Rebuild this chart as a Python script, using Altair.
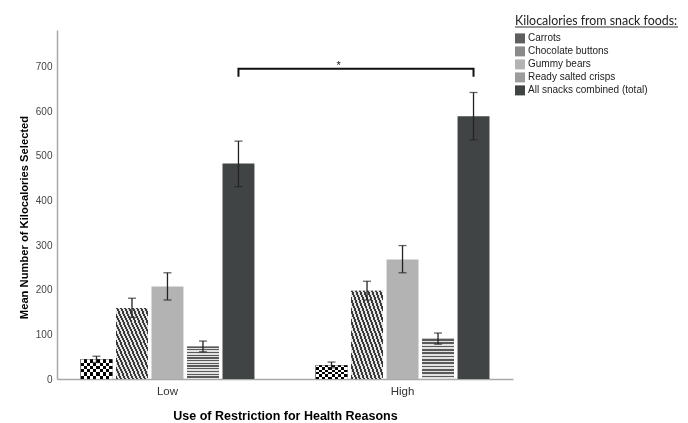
import altair as alt
import pandas as pd

# ---- data ----
groups = ["Low", "High"]
snacks = ["Carrots", "Chocolate buttons", "Gummy bears", "Ready salted crisps",
          "All snacks combined (total)"]
low_mean = [44, 159, 207, 73, 483]
low_lo = [37, 138, 177, 61, 431]
low_hi = [51, 181, 238, 85, 533]
high_mean = [31, 198, 268, 90, 589]
high_lo = [25, 177, 238, 78, 536]
high_hi = [38, 219, 299, 103, 642]
y_ticks = [0, 100, 200, 300, 400, 500, 600, 700]
bracket_y = [677, 695, 695, 677]
bracket_groups = ["Low", "Low", "High", "High"]
star_y = [694]

rows = []
for g, m, lo, hi in [("Low", low_mean, low_lo, low_hi), ("High", high_mean, high_lo, high_hi)]:
    for s, a, b, c in zip(snacks, m, lo, hi):
        rows.append({"group": g, "snack": s, "mean": a, "lo": b, "hi": c})
df = pd.DataFrame(rows)

df_br = pd.DataFrame({"group": bracket_groups, "snack": [snacks[-1]] * 4,
                      "y": bracket_y, "order": [0, 1, 2, 3]})
df_star = pd.DataFrame({"group": ["High"], "snack": ["Carrots"], "y": star_y, "t": ["*"]})

# ---- styles ----
legend_grays = ["#5e5e5e", "#8a8a8a", "#b3b3b3", "#9c9c9c", "#414445"]


def stripes(n, c1, c2, x1, y1, x2, y2, frac=0.5):
    stops = []
    for k in range(n):
        a = k / n
        b = (k + frac) / n
        c = (k + 1) / n
        stops += [alt.GradientStop(color=c1, offset=a), alt.GradientStop(color=c1, offset=b),
                  alt.GradientStop(color=c2, offset=b), alt.GradientStop(color=c2, offset=c)]
    return alt.LinearGradient(gradient="linear", stops=stops, x1=x1, y1=y1, x2=x2, y2=y2)


choc_fill = stripes(16, "#3a3a3a", "#e6e6e6", 0, 1, 1, 0)
crisp_fill = stripes(12, "#5a5a5a", "#e2e2e2", 0, 0, 0, 1)
carrot_h = stripes(3, "#000000", "#ffffff", 0, 0, 0, 1)
carrot_v = stripes(5, "#ffffff", "#000000", 0, 0, 1, 0)

X = alt.X("group:N", sort=groups,
          scale=alt.Scale(domain=groups, paddingInner=0.26, paddingOuter=0.1),
          axis=alt.Axis(title="Use of Restriction for Health Reasons", titleFontSize=12.5,
                        titleFontWeight="bold", titleColor="#000", titlePadding=13,
                        labelFontSize=11.5, labelColor="#333", labelPadding=6, labelAngle=0,
                        ticks=False, domainColor="#a8a8a8", domainWidth=1.5))
XO = alt.XOffset("snack:N", sort=snacks,
                 scale=alt.Scale(domain=snacks, paddingInner=0.1, paddingOuter=0))
Y = alt.Y("mean:Q", scale=alt.Scale(domain=[0, 782], nice=False, zero=True),
          axis=alt.Axis(values=y_ticks, title="Mean Number of Kilocalories Selected",
                        titleFont="Liberation Sans Narrow, Liberation Sans, sans-serif",
                        titleFontSize=11.2, titleFontWeight="bold", titleColor="#000",
                        titlePadding=6, titleY=187, labelFontSize=10, labelColor="#444",
                        labelPadding=5, ticks=False, grid=False,
                        domainColor="#a8a8a8", domainWidth=1.5))

base = alt.Chart(df).encode(x=X, xOffset=XO)

bars = base.mark_bar().encode(
    y=Y,
    color=alt.Color("snack:N", scale=alt.Scale(domain=snacks, range=legend_grays),
                    legend=alt.Legend(orient="none", legendX=458, legendY=-15,
                                      title="Kilocalories from snack foods:",
                                      titleFont="Lato", titleFontSize=12.4,
                                      titleFontWeight="normal", titleColor="#222",
                                      titlePadding=6,
                                      labelFont="Liberation Sans", labelFontSize=10,
                                      labelColor="#222", symbolType="square",
                                      symbolSize=100, symbolStrokeWidth=0,
                                      rowPadding=3, labelOffset=3, padding=0)),
)
choc = base.transform_filter(alt.datum.snack == "Chocolate buttons").mark_bar(fill=choc_fill).encode(y=Y)
crisp = base.transform_filter(alt.datum.snack == "Ready salted crisps").mark_bar(fill=crisp_fill).encode(y=Y)
carr1 = base.transform_filter(alt.datum.snack == "Carrots").mark_bar(fill=carrot_h).encode(y=Y)
carr2 = base.transform_filter(alt.datum.snack == "Carrots").mark_bar(fill=carrot_v, blend="difference").encode(y=Y)

err = base.mark_rule(color="#222", strokeWidth=1.3).encode(y="lo:Q", y2="hi:Q")
cap_lo = base.mark_tick(color="#222", size=8, thickness=1.3, orient="horizontal").encode(y="lo:Q")
cap_hi = base.mark_tick(color="#222", size=8, thickness=1.3, orient="horizontal").encode(y="hi:Q")

bracket = alt.Chart(df_br).mark_line(color="#111", strokeWidth=2).encode(
    x=alt.X("group:N", sort=groups), xOffset=alt.XOffset("snack:N", sort=snacks),
    y="y:Q", order="order:Q")
star = alt.Chart(df_star).mark_text(fontSize=11, color="#111", dx=7, baseline="alphabetic").encode(
    x=alt.X("group:N", sort=groups), xOffset=alt.XOffset("snack:N", sort=snacks),
    y="y:Q", text="t:N")
underline = alt.Chart(df_star).mark_rule(color="#333", strokeWidth=1).encode(
    x=alt.value(458), x2=alt.value(621), y=alt.value(-3))

chart = alt.layer(bars, choc, crisp, carr1, carr2, err, cap_lo, cap_hi, bracket, star, underline).properties(
    width=456, height=349, autosize="none",
    padding={"left": 49, "top": 22, "right": 167, "bottom": 50},
    background="white",
).configure(font="Liberation Sans").configure_view(strokeWidth=0, stroke="transparent")

chart.save("out.html", embed_options={"renderer": "svg", "actions": False})
